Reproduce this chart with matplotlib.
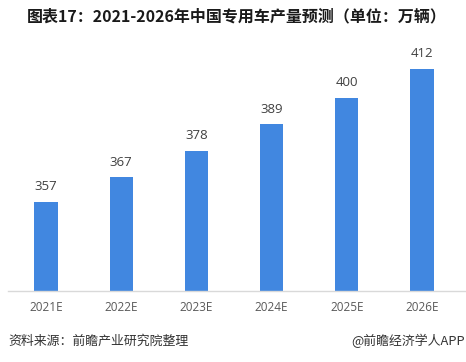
import matplotlib
matplotlib.use("Agg")
import matplotlib.pyplot as plt

plt.rcParams['font.family'] = ['Noto Sans CJK SC', 'DejaVu Sans']

categories = ["2021E", "2022E", "2023E", "2024E", "2025E", "2026E"]
values = [357, 367, 378, 389, 400, 412]

fig = plt.figure(figsize=(4.66, 3.62), dpi=100)
ax = fig.add_axes([8 / 466, 1 - 291 / 362, 458 / 466, (291 - 50) / 362])

x = list(range(len(categories)))
ax.bar(x, values, width=0.31, color="#4187E0", zorder=2)
ax.set_xlim(-0.505, 5.585)
ax.set_ylim(320, 419.7)

for xi, v in zip(x, values):
    ax.annotate(str(v), (xi, v), xytext=(0, 6), textcoords="offset points",
                ha="center", va="bottom", fontsize=9.5, color="#404040",
                family=['Open Sans', 'DejaVu Sans'])

ax.set_xticks(x)
ax.set_xticklabels(categories, fontsize=8.5, color="#595959", family=['Open Sans', 'DejaVu Sans'])
ax.tick_params(axis='x', length=0, pad=7)
ax.set_yticks([])
for s in ["top", "right", "left"]:
    ax.spines[s].set_visible(False)
ax.spines["bottom"].set_color("#d9d9d9")
ax.spines["bottom"].set_linewidth(1.0)

fig.text(237 / 466, 1 - 16 / 362, "图表17：2021-2026年中国专用车产量预测（单位：万辆）",
         ha="center", va="center", fontsize=11.5, fontweight="bold", color="#1a1a1a")
fig.text(8 / 466, 1 - 341 / 362, "资料来源：前瞻产业研究院整理",
         ha="left", va="center", fontsize=9.3, color="#333333")
fig.text(465 / 466, 1 - 341 / 362, "@前瞻经济学人APP",
         ha="right", va="center", fontsize=9.3, color="#333333")

fig.savefig("out.png", dpi=100)
